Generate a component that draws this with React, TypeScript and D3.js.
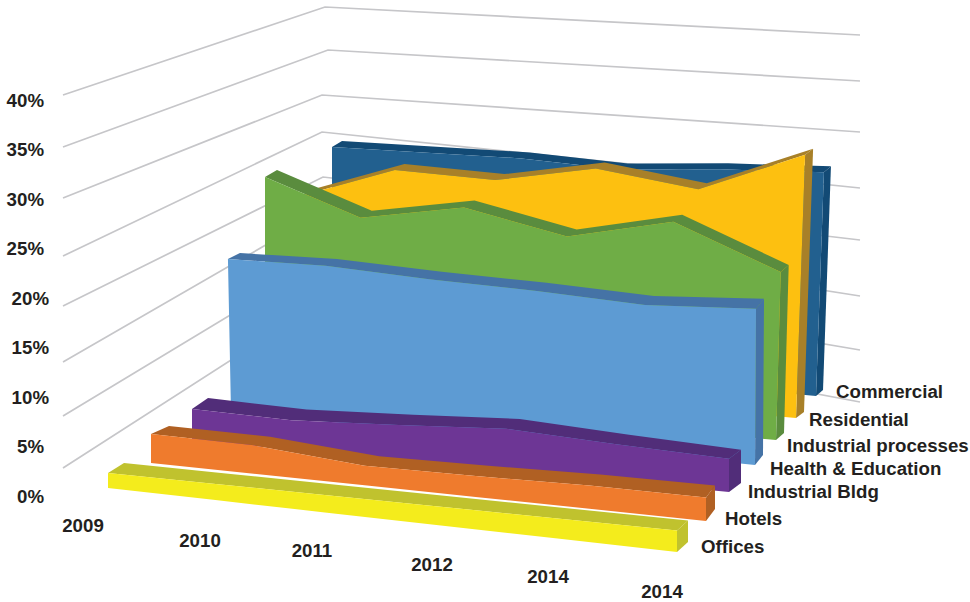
import React from 'react';
import * as d3 from 'd3';

// Values, in percent
const years = ['2009', '2010', '2011', '2012', '2014', '2014'];
const yTicks = [0, 5, 10, 15, 20, 25, 30, 35, 40];
const gridTicks = [5, 10, 15, 20, 25, 30, 35, 40];

const offices = [1.5, 1.6, 1.7, 1.8, 1.9, 2.0];
const hotels = [2.9, 2.8, 1.9, 2.0, 2.2, 2.2];
const industrialBldg = [3.1, 2.9, 3.4, 4.0, 3.5, 3.1];
const healthEducation = [15.3, 15.4, 14.9, 14.6, 14.1, 14.6];
const industrialProcesses = [21.4, 18.0, 19.7, 17.6, 19.7, 15.7];
const residential = [17.8, 20.9, 20.5, 22.2, 20.8, 24.6];
const commercial = [20.5, 20.5, 20.5, 20.0, 20.6, 20.9];

// front to back
const seriesNames = ['Offices', 'Hotels', 'Industrial Bldg', 'Health & Education', 'Industrial processes', 'Residential', 'Commercial'];
const seriesValues = [offices, hotels, industrialBldg, healthEducation, industrialProcesses, residential, commercial];
const frontColors = ['#f4ec1c', '#ef7b2d', '#6d3695', '#5d9bd3', '#6fad46', '#fdc010', '#22608f'];
const topColors = ['#c0c22e', '#b06023', '#512d79', '#4573a6', '#5a8c3e', '#a88028', '#124a75'];

// The fake perspective: every parameter is a scale over the series depth
const depths = seriesNames.map((_, i) => i);
const depthScale = (range: number[]) => d3.scaleLinear().domain(depths).range(range);

const leftX = depthScale([108, 151, 192, 231, 265, 302, 332]);
const leftBaseY = depthScale([488, 463, 440, 412, 391, 373.5, 352]);
const rightX = depthScale([677, 706, 729, 755, 776, 796, 816]);
const rightBaseY = depthScale([552, 521, 492, 465, 440, 418, 396]);
const leftDx = depthScale([16, 18, 16, 12, 12, 10, 10]);
const leftDy = depthScale([-10, -8, -11, -6, -7, -6, -6]);
const rightDx = depthScale([11, 9, 12, 8, 8, 8, 7]);
const rightDy = depthScale([-10, -12, -9, -10, -7, -6, -6]);
const leftLean = depthScale([0, 0, 0, -0.2, 0, 0, 0]);
const rightLean = depthScale([0, 0, 0, 0.07, 0.3, 0.37, 0.38]);

const along = d3.scaleLinear().domain(years.map((_, i) => i)).range([0, 0.185, 0.385, 0.585, 0.79, 1]);
const pxPerPct = d3.scaleLinear().domain([0, 1]).range([10, 10.7]);

type Pt = { baseX: number; baseY: number; topX: number; topY: number; dx: number; dy: number };

function project(depth: number, values: number[]): Pt[] {
    return values.map((v, i) => {
        const t = along(i);
        const mix = d3.scaleLinear().domain([0, 1]);
        const baseX = mix.range([leftX(depth), rightX(depth)])(t);
        const baseY = mix.range([leftBaseY(depth), rightBaseY(depth)])(t);
        const lean = mix.range([leftLean(depth), rightLean(depth)])(t);
        const dx = mix.range([leftDx(depth), rightDx(depth)])(t);
        const dy = mix.range([leftDy(depth), rightDy(depth)])(t);
        return { baseX, baseY, topX: baseX + lean * v, topY: baseY - v * pxPerPct(t), dx, dy };
    });
}

const frontArea = d3.area<Pt>()
    .x0(p => p.baseX).y0(p => p.baseY)
    .x1(p => p.topX).y1(p => p.topY);

const topArea = d3.area<Pt>()
    .x0(p => p.topX).y0(p => p.topY)
    .x1(p => p.topX + p.dx).y1(p => p.topY + p.dy);

const closedLine = d3.line().curve(d3.curveLinearClosed);

// Walls: the gridlines run from the left edge to the back corner to the right edge
const gridLeftY = d3.scaleLinear().domain(gridTicks).range([468, 416, 362, 306, 256, 198, 147, 95]);
const gridCornerX = d3.scaleLinear().domain(gridTicks).range([323, 323, 323, 323, 322, 322, 328, 325]);
const gridCornerY = d3.scaleLinear().domain(gridTicks).range([301, 259, 212, 177, 132, 95, 50, 7]);
const gridRightY = d3.scaleLinear().domain(gridTicks).range([402, 350, 296, 240, 188, 132, 81, 35]);
const gridLine = d3.line();

const yLabel = d3.scaleLinear().domain([0, 40]).range([502.5, 106.5]);
const yLabelRight = d3.scaleOrdinal<number, number>().domain(yTicks).range([44, 44, 49, 49, 49, 44, 44, 44, 44]);

const yearIdx = years.map((_, i) => i);
const yearX = d3.scaleLinear().domain(yearIdx).range([83, 200, 312, 432, 548, 662]);
const yearY = d3.scaleLinear().domain(yearIdx).range([532, 547, 557, 571, 583, 598]);

const nameX = depthScale([701, 725, 748, 770, 787, 809, 836]);
const nameY = depthScale([553, 525, 498, 475, 452, 426, 398]);

const textStyle: React.CSSProperties = {
    fontFamily: '"Liberation Sans", Arial, sans-serif',
    fontWeight: 700,
    fontSize: 18.7,
    fill: '#231f20',
};

export default function App() {
    const drawOrder = [...depths].reverse();

    return (
        <svg width={970} height={602} style={{ position: 'absolute', left: 0, top: 0, background: '#fff' }}>
            <g fill="none" stroke="#c6c6c9" strokeWidth={1.7}>
                {gridTicks.map(g => (
                    <path
                        key={g}
                        d={gridLine([
                            [63, gridLeftY(g)],
                            [gridCornerX(g), gridCornerY(g)],
                            [860, gridRightY(g)],
                        ]) as string}
                    />
                ))}
            </g>

            {drawOrder.map(depth => {
                const pts = project(depth, seriesValues[depth]);
                const last = pts[pts.length - 1];
                const side = closedLine([
                    [last.baseX, last.baseY],
                    [last.topX, last.topY],
                    [last.topX + last.dx, last.topY + last.dy],
                    [last.baseX + last.dx, last.baseY + last.dy],
                ]) as string;
                return (
                    <g key={seriesNames[depth]}>
                        <path d={topArea(pts) as string} fill={topColors[depth]} />
                        <path d={side} fill={topColors[depth]} />
                        <path d={frontArea(pts) as string} fill={frontColors[depth]} />
                    </g>
                );
            })}

            {yTicks.map(t => (
                <text key={t} x={yLabelRight(t)} y={yLabel(t)} textAnchor="end" style={textStyle}>{t}%</text>
            ))}
            {years.map((y, i) => (
                <text key={i} x={yearX(i)} y={yearY(i)} textAnchor="middle" style={textStyle}>{y}</text>
            ))}
            {seriesNames.map((name, depth) => (
                <text key={name} x={nameX(depth)} y={nameY(depth)} style={textStyle}>{name}</text>
            ))}
        </svg>
    );
}
